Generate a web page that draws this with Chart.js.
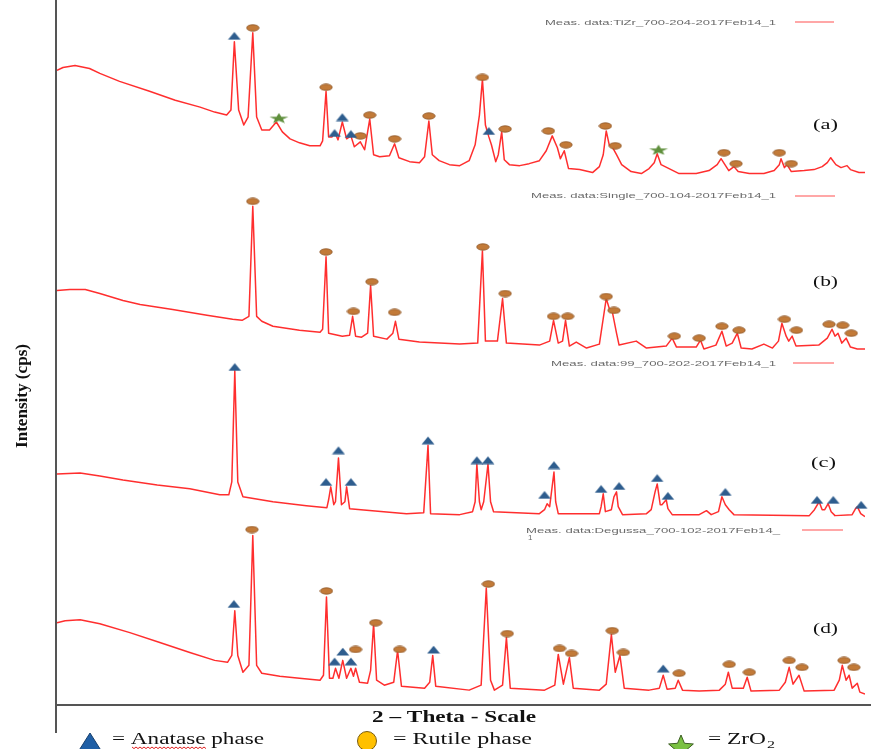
<!DOCTYPE html>
<html>
<head>
<meta charset="utf-8">
<script src="https://cdn.jsdelivr.net/npm/chart.js@4.4.1/dist/chart.umd.min.js"></script>
<style>
  html, body { margin: 0; padding: 0; background: #ffffff; }
  canvas { display: block; }
</style>
</head>
<body>
<canvas id="xrd" width="871" height="749"></canvas>
<script>
// ---- XRD patterns: [2θ (deg), intensity above the pattern's own baseline] ----
const patternA = [
  [4.6,120],[5.3,123],[6.7,125],[8.4,122],[9.6,117],[11.9,109],[15.4,99],[18.4,90],[21.3,83],[23.0,78],
  [24.4,75],[24.9,80],[25.3,149],[25.8,80],[26.4,65],[26.9,73],[27.45,158],[27.9,73],[28.5,60],[29.4,60],
  [30.2,68],[30.9,58],[31.8,51],[32.9,47],[34.1,44],[35.3,44],[35.6,49],[36.0,99],[36.3,53],[36.7,53],
  [37.0,58],[37.4,50],[37.9,68],[38.4,51],[38.9,54],[39.3,43],[40.0,48],[40.5,40],[41.1,71],[41.55,35],
  [42.25,33],[43.4,34],[44.0,46],[44.5,32],[45.75,28],[46.9,27],[47.5,33],[48.0,69],[48.4,35],[49.2,29],
  [50.4,25],[51.6,24],[52.7,29],[53.4,45],[53.9,75],[54.25,111],[54.6,65],[55.0,53],[55.3,45],[55.8,28],
  [56.1,35],[56.5,58],[56.8,30],[57.4,25],[58.6,24],[59.7,26],[60.9,29],[61.7,39],[62.4,54],[63.0,42],
  [63.35,31],[63.8,39],[64.3,21],[65.6,20],[67.1,17],[67.9,23],[68.35,35],[68.7,59],[69.05,45],[69.4,43],
  [69.9,35],[70.5,25],[71.6,18],[72.8,16],[73.7,21],[74.3,27],[74.65,36],[75.1,25],[75.8,22],[77.2,16],
  [79.2,16],[80.7,19],[81.65,25],[82.1,31],[82.7,23],[83.0,19],[83.6,23],[84.1,18],[85.4,16],[87.1,16],
  [88.3,19],[88.9,25],[89.1,31],[89.5,22],[89.8,25],[90.3,18],[91.8,19],[92.95,20],[93.9,23],[94.5,27],
  [94.9,32],[95.5,25],[96.1,22],[96.8,24],[97.2,20],[98.2,17],[98.9,17]
];
const patternB = [
  [4.6,73],[6.1,74],[7.9,74],[9.6,70],[12.3,63],[14.3,59],[18.1,54],[22.1,48],[25.1,44],[26.2,43],
  [27.0,47],[27.45,158],[27.9,47],[28.5,42],[29.8,37],[32.9,33],[35.3,31],[35.6,34],[36.0,107],[36.3,30],
  [37.9,27],[38.75,28],[39.1,47],[39.45,27],[40.15,26],[40.85,30],[41.2,78],[41.55,27],[43.1,24],[43.8,30],
  [44.1,42],[44.5,24],[46.9,21],[51.6,19],[53.7,20],[54.25,113],[54.6,22],[56.0,22],[56.6,65],[57.05,20],
  [60.9,18],[62.1,22],[62.55,43],[63.1,20],[63.6,22],[63.95,43],[64.4,17],[65.2,21],[66.4,15],[67.9,19],
  [68.7,65],[69.05,55],[69.4,52],[69.9,30],[70.2,18],[72.2,22],[73.4,15],[75.7,17],[76.4,25],[76.9,16],
  [79.2,16],[79.7,23],[80.1,14],[81.5,18],[82.2,32],[82.7,17],[83.4,20],[84.0,30],[84.45,15],[85.7,14],
  [87.1,19],[88.1,15],[88.8,22],[89.2,40],[89.7,27],[90.0,22],[90.4,27],[90.85,17],[93.5,18],[94.5,25],
  [95.05,34],[95.4,27],[95.75,30],[96.2,20],[96.7,25],[97.2,16],[98.0,14],[98.9,14]
];
const patternC = [
  [4.6,48],[7.3,49],[9.6,46],[12.3,42],[16.3,37],[20.1,33],[23.6,27],[24.65,27],[25.0,40],[25.35,152],
  [25.7,40],[26.3,25],[29.8,20],[33.7,16],[36.1,14],[36.3,22],[36.55,35],[36.9,17],[37.1,20],[37.45,64],
  [37.8,17],[38.2,20],[38.4,35],[38.75,13],[41.4,11],[45.4,8],[47.4,9],[47.9,77],[48.2,8],[51.6,7],
  [53.1,10],[53.4,20],[53.6,58],[53.9,20],[54.1,12],[54.4,20],[54.9,58],[55.2,20],[55.55,10],[60.9,8],
  [61.5,12],[61.8,18],[62.1,15],[62.6,50],[62.8,20],[63.1,8],[67.9,8],[68.1,15],[68.35,28],[68.6,10],
  [69.3,12],[69.6,25],[69.9,30],[70.1,15],[70.6,7],[73.4,8],[73.95,12],[74.4,30],[74.65,38],[75.0,17],
  [75.2,17],[75.7,22],[75.9,13],[76.4,7],[79.55,7],[80.4,11],[80.95,7],[81.8,10],[82.2,25],[82.6,17],
  [83.05,12],[83.6,7],[92.4,6],[93.0,12],[93.55,20],[93.9,12],[94.2,12],[94.6,18],[94.95,10],[95.4,6],
  [97.4,7],[97.8,13],[98.0,15],[98.4,8],[98.9,5]
];
const patternD = [
  [4.6,83],[5.55,85],[7.3,86],[9.6,82],[13.1,73],[16.6,63],[20.1,53],[23.0,45],[24.5,43],[25.0,50],
  [25.35,95],[25.7,50],[26.3,33],[27.0,40],[27.45,171],[27.9,40],[28.5,32],[30.6,29],[32.9,27],[35.3,25],
  [35.7,30],[36.05,109],[36.4,27],[36.8,27],[37.1,37],[37.5,27],[37.95,45],[38.4,27],[38.9,37],[39.2,29],
  [39.45,37],[39.9,23],[40.85,22],[41.2,35],[41.55,82],[41.9,25],[42.8,20],[43.9,23],[44.35,55],[44.8,19],
  [47.5,17],[48.1,23],[48.45,50],[48.8,19],[52.7,15],[54.1,20],[54.7,118],[55.2,25],[55.65,15],[56.6,20],
  [57.05,68],[57.5,17],[61.5,15],[62.7,20],[63.1,51],[63.7,21],[64.4,48],[64.85,17],[67.9,15],[68.7,21],
  [69.3,71],[69.75,33],[70.3,50],[70.8,17],[73.7,15],[74.9,17],[75.35,30],[75.8,16],[76.75,17],[77.1,25],
  [77.6,15],[79.55,14],[81.9,15],[82.6,21],[82.95,33],[83.4,17],[84.7,17],[85.15,28],[85.6,14],[88.9,15],
  [89.6,23],[90.05,38],[90.5,21],[91.2,30],[91.8,14],[95.3,15],[95.9,25],[96.25,40],[96.7,25],[97.05,30],
  [97.4,17],[98.0,22],[98.3,13],[98.9,11]
];
// vertical stacking of the four patterns
const patternOffsets = [520, 345, 185, 0];
const sampleTags = ['(a)', '(b)', '(c)', '(d)'];
const measNames = [
  'Meas. data:TiZr_700-204-2017Feb14_1',
  'Meas. data:Single_700-104-2017Feb14_1',
  'Meas. data:99_700-202-2017Feb14_1',
  'Meas. data:Degussa_700-102-2017Feb14_'
];

// ---- phase markers: [2θ, height above the pattern's baseline] ----
const anataseA = [[25.3,155],[37.0,57],[37.9,73],[38.9,56],[55.0,59]];
const rutileA  = [[27.45,163],[36.0,103],[40.0,54],[41.1,75],[44.0,51],[48.0,74],[54.25,113],[56.9,61],
                  [61.95,59],[64.0,45],[68.6,64],[69.75,44],[82.45,37],[83.85,26],[88.9,37],[90.3,26]];
const zro2A    = [[30.5,72],[74.8,40]];
const rutileB  = [[27.45,163],[36.0,112],[39.2,52],[41.35,82],[44.0,51],[54.3,117],[56.9,70],[62.55,47],
                  [64.2,47],[68.7,67],[69.6,53],[76.65,27],[79.55,25],[82.2,37],[84.2,33],[89.5,44],
                  [90.9,33],[94.7,39],[96.3,38],[97.3,30]];
const anataseC = [[25.35,156],[36.0,40],[37.45,72],[38.9,40],[47.9,82],[53.6,62],[54.9,62],[61.5,27],
                  [62.6,57],[68.1,33],[70.2,36],[74.65,44],[75.9,26],[82.6,30],[93.3,22],[95.2,22],[98.45,17]];
const anataseD = [[25.25,102],[37.0,44],[37.95,54],[38.9,44],[48.55,56],[75.35,37]];
const rutileD  = [[27.35,177],[36.05,115],[39.45,56],[41.8,83],[44.6,56],[54.95,122],[57.15,72],[63.25,57],
                  [64.65,52],[69.4,75],[70.7,53],[77.2,32],[83.05,41],[85.4,33],[90.05,45],[91.55,38],
                  [96.45,45],[97.6,38]];

const legendItems = ['= Anatase phase', '= Rutile phase', '= ZrO'];

// ---- marker glyphs ----
function ellipseGlyph() {
  const c = document.createElement('canvas'); c.width = 14; c.height = 8;
  const g = c.getContext('2d');
  g.beginPath(); g.ellipse(7, 4, 6.2, 3.2, 0, 0, Math.PI * 2);
  g.fillStyle = '#c27a38'; g.fill();
  g.lineWidth = 0.8; g.strokeStyle = '#8d5527'; g.stroke();
  return c;
}
function triangleGlyph() {
  const c = document.createElement('canvas'); c.width = 14; c.height = 9;
  const g = c.getContext('2d');
  g.beginPath(); g.moveTo(7, 0.8); g.lineTo(13.4, 8.4); g.lineTo(0.6, 8.4); g.closePath();
  g.fillStyle = '#2e5d8e'; g.fill();
  return c;
}
function starPath(g, cx, cy, rx, ry, inner) {
  g.beginPath();
  for (let i = 0; i < 10; i++) {
    const r = i % 2 === 0 ? 1 : inner;
    const a = -Math.PI / 2 + i * Math.PI / 5;
    const px = cx + Math.cos(a) * rx * r, py = cy + Math.sin(a) * ry * r;
    if (i === 0) g.moveTo(px, py); else g.lineTo(px, py);
  }
  g.closePath();
}
function starGlyph() {
  const c = document.createElement('canvas'); c.width = 22; c.height = 11;
  const g = c.getContext('2d');
  starPath(g, 11, 6, 10, 5.5, 0.42);
  g.fillStyle = '#5f8f3c'; g.fill();
  return c;
}

const ELL = ellipseGlyph(), TRI = triangleGlyph(), STAR = starGlyph();

function shift(list, off) { return list.map(([x, y]) => ({ x, y: y + off })); }

const patterns = [patternA, patternB, patternC, patternD];

const markerSets = [
  { glyph: TRI,  data: [...shift(anataseA, patternOffsets[0]), ...shift(anataseC, patternOffsets[2]), ...shift(anataseD, patternOffsets[3])] },
  { glyph: ELL,  data: [...shift(rutileA, patternOffsets[0]), ...shift(rutileB, patternOffsets[1]), ...shift(rutileD, patternOffsets[3])] },
  { glyph: STAR, data: shift(zro2A, patternOffsets[0]) }
];

const datasets = [];
markerSets.forEach(m => datasets.push({
  data: m.data, showLine: false, pointStyle: m.glyph, pointRadius: 5, pointHoverRadius: 5,
  clip: false
}));
patterns.forEach((p, i) => datasets.push({
  data: shift(p, patternOffsets[i]),
  borderColor: 'rgba(255,28,28,0.92)', borderWidth: 1.5, pointRadius: 0,
  tension: 0, borderJoinStyle: 'round', fill: false
}));

function fitText(ctx, text, x, y, w) {
  const m = ctx.measureText(text).width;
  ctx.save(); ctx.translate(x, y); ctx.scale(w / m, 1); ctx.fillText(text, 0, 0); ctx.restore();
}

const decor = {
  id: 'decor',
  beforeDatasetsDraw(chart) {
    const { ctx, chartArea: a } = chart;
    ctx.save();
    ctx.strokeStyle = '#555'; ctx.lineWidth = 2;
    ctx.beginPath(); ctx.moveTo(a.left - 1, 0); ctx.lineTo(a.left - 1, a.bottom + 28); ctx.stroke();
    ctx.beginPath(); ctx.moveTo(a.left - 2, a.bottom); ctx.lineTo(chart.width, a.bottom); ctx.stroke();
    ctx.restore();
  },
  afterDraw(chart) {
    const { ctx } = chart;
    ctx.save();
    ctx.textBaseline = 'alphabetic';

    // run labels with their line keys
    const measPos = [
      { x: 545, y: 25, w: 231, lx1: 795, lx2: 834, ly: 22 },
      { x: 531, y: 198, w: 245, lx1: 795, lx2: 835, ly: 196 },
      { x: 551, y: 366, w: 225, lx1: 793, lx2: 834, ly: 363 },
      { x: 526, y: 533, w: 254, lx1: 802, lx2: 843, ly: 530 }
    ];
    ctx.font = '8px "Liberation Sans", Arial, sans-serif';
    ctx.fillStyle = '#6a6a6a';
    measNames.forEach((t, i) => {
      const p = measPos[i];
      fitText(ctx, t, p.x, p.y, p.w);
      ctx.strokeStyle = 'rgba(255,60,60,0.9)'; ctx.lineWidth = 1.2;
      ctx.beginPath(); ctx.moveTo(p.lx1, p.ly); ctx.lineTo(p.lx2, p.ly); ctx.stroke();
    });
    ctx.fillText('1', 528, 540);

    // sample tags
    ctx.font = '14px "Liberation Serif", "Times New Roman", serif';
    ctx.fillStyle = '#111';
    const tagPos = [[813, 129], [813, 286], [811, 467], [813, 633]];
    sampleTags.forEach((t, i) => fitText(ctx, t, tagPos[i][0], tagPos[i][1], 25));

    // axis titles
    ctx.font = 'bold 16px "Liberation Serif", "Times New Roman", serif';
    ctx.fillStyle = '#111';
    fitText(ctx, '2 \u2013 Theta - Scale', 372, 722, 164);

    ctx.save();
    ctx.translate(27, 448);
    ctx.rotate(-Math.PI / 2);
    ctx.font = 'bold 16px "Liberation Serif", "Times New Roman", serif';
    fitText(ctx, 'Intensity (cps)', 0, 0, 104);
    ctx.restore();

    // phase key
    ctx.fillStyle = '#1f5fa6';
    ctx.strokeStyle = '#17406e'; ctx.lineWidth = 1;
    ctx.beginPath(); ctx.moveTo(90, 733); ctx.lineTo(102, 752); ctx.lineTo(78, 752); ctx.closePath();
    ctx.fill(); ctx.stroke();

    ctx.beginPath(); ctx.arc(367, 741, 9.5, 0, Math.PI * 2);
    ctx.fillStyle = '#ffc000'; ctx.fill();
    ctx.strokeStyle = '#7a5c10'; ctx.lineWidth = 1; ctx.stroke();

    starPath(ctx, 681, 748, 13, 13, 0.45);
    ctx.fillStyle = '#7ac142'; ctx.fill();
    ctx.strokeStyle = '#3b5e22'; ctx.lineWidth = 1; ctx.stroke();

    ctx.fillStyle = '#111';
    ctx.font = '17px "Liberation Serif", "Times New Roman", serif';
    fitText(ctx, legendItems[0], 112, 744, 152);
    fitText(ctx, legendItems[1], 393, 744, 139);
    fitText(ctx, legendItems[2], 708, 744, 58);
    ctx.font = '11px "Liberation Serif", "Times New Roman", serif';
    fitText(ctx, '2', 767, 748, 8);

    // spell-check squiggle under "Anatase"
    ctx.strokeStyle = '#e02020'; ctx.lineWidth = 1;
    ctx.beginPath();
    for (let x = 132, k = 0; x <= 206; x += 2, k++) {
      const y = 747 + (k % 2 === 0 ? 0 : 1.6);
      if (k === 0) ctx.moveTo(x, y); else ctx.lineTo(x, y);
    }
    ctx.stroke();
    ctx.restore();
  }
};

new Chart(document.getElementById('xrd'), {
  type: 'line',
  data: { datasets },
  options: {
    responsive: false,
    animation: false,
    events: [],
    layout: { padding: { left: 57, right: 5, top: 0, bottom: 44 } },
    scales: {
      x: { type: 'linear', min: 4.6, max: 98.9, display: false },
      y: { type: 'linear', min: 0, max: 705, display: false }
    },
    plugins: { legend: { display: false }, tooltip: { enabled: false } }
  },
  plugins: [decor]
});
</script>
</body>
</html>
